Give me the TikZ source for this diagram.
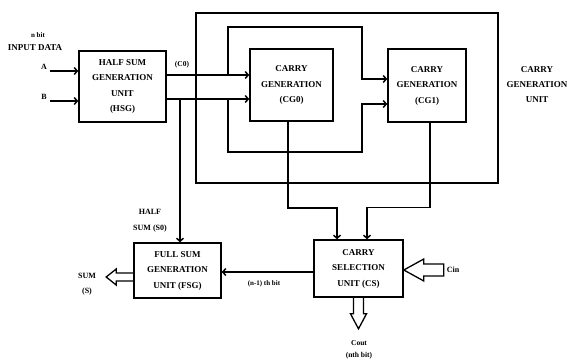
\documentclass[tikz,border=0pt]{standalone}
\usepackage{fontspec}
\setmainfont{Liberation Serif}
\usetikzlibrary{arrows.meta,calc}

\begin{document}
\begin{tikzpicture}[x=1pt,y=-1pt,
  box/.style={draw,line width=1.6pt,inner sep=0pt,align=center,font=\fontsize{9}{15.5}\selectfont\bfseries},
  arr/.style={line width=1.5pt,-{Straight Barb[length=3pt,width=7pt]}},
  fat/.style={line width=1.3pt,line join=miter},
  lbl/.style={align=center,inner sep=0pt,font=\fontsize{8}{15}\selectfont\bfseries}]
 \useasboundingbox (0,0) rectangle (567,363);
 \node[draw,line width=1.6pt,minimum width=302pt,minimum height=170pt] (cgu) at (347,98) {};
 \node[box,minimum width=87pt,minimum height=71pt] (hsg) at (122.5,86.5) {HALF SUM\\GENERATION\\UNIT\\(HSG)};
 \node[box,minimum width=83pt,minimum height=72pt] (cg0) at (291.5,85) {CARRY\\GENERATION\\(CG0)};
 \node[box,minimum width=78pt,minimum height=73pt] (cg1) at (427,85.5) {CARRY\\GENERATION\\(CG1)};
 \node[box,minimum width=89pt,minimum height=57pt] (cs) at (358.5,268.5) {CARRY\\SELECTION\\UNIT (CS)};
 \node[box,minimum width=87pt,minimum height=55pt] (fsg) at (177.5,270.5) {FULL SUM\\GENERATION\\UNIT (FSG)};
 \node[lbl,font=\fontsize{9}{15}\selectfont\bfseries] (cgulbl) at (537,85) {CARRY\\GENERATION\\UNIT};
 % inputs
 \node[lbl,font=\fontsize{7}{8}\selectfont\bfseries] (nbit) at (38,35) {n bit};
 \node[lbl,font=\fontsize{9}{11}\selectfont\bfseries] (indata) at (35,48) {INPUT DATA};
 \node[lbl,font=\fontsize{8}{10}\selectfont\bfseries] (la) at (44,67) {A};
 \node[lbl,font=\fontsize{8}{10}\selectfont\bfseries] (lb) at (44,97) {B};
 \draw[arr] ($(la.east |- 0,71)+(3,0)$) -- (hsg.west |- 0,71);
 \draw[arr] ($(lb.east |- 0,101)+(3,0)$) -- (hsg.west |- 0,101);
 % HSG outputs
 \node[lbl,font=\fontsize{7.5}{9}\selectfont\bfseries] (c0) at (182,65) {(C0)};
 \draw[arr] (hsg.east |- 0,75) -- (cg0.west |- 0,75);
 \draw[arr] (hsg.east |- 0,99) -- (cg0.west |- 0,99);
 \draw[arr] (228,75) |- (362,27) |- (cg1.west |- 0,79);
 \draw[arr] (228,99) |- (362,152) |- (cg1.west |- 0,104);
 \node[lbl,font=\fontsize{8}{16}\selectfont\bfseries] (hs) at (150,221) {HALF\\SUM (S0)};
 \draw[arr] (180,99) -- (fsg.north -| 180,0);
 % carry lines
 \coordinate (csin0) at ($(cs.north)+(-21.5,0)$);
 \coordinate (csin1) at ($(cs.north)+(8.5,0)$);
 \draw[arr] ($(cg0.south)+(-3.5,0)$) -- ++(0,86) -| (csin0);
 \draw[arr] ($(cg1.south)+(3,0)$) -- ++(0,84.5) -| (csin1);
 \draw[arr] (cs.west |- 0,272) -- (fsg.east |- 0,272);
 \node[lbl,font=\fontsize{7}{8}\selectfont\bfseries] (nm1) at (264,284) {(n-1) th bit};
 % hollow arrows
 \draw[fat] (cs.east |- 0,270) -- ++(20,-11) -- ++(0,5) -- ++(20,0) -- ++(0,12) -- ++(-20,0) -- ++(0,5) -- cycle;
 \node[lbl] (cin) at (453,270) {Cin};
 \draw[fat] ($(cs.south)+(-5,0)$) -- ++(0,16) -- ++(-3,0) -- ++(8,15) -- ++(8,-15) -- ++(-3,0) -- ++(0,-16);
 \node[lbl,font=\fontsize{7.5}{12}\selectfont\bfseries] (cout) at (359,350) {Cout\\(nth bit)};
 \draw[fat] (fsg.west |- 0,273) -- ++(-17,0) -- ++(0,-4) -- ++(-10,8) -- ++(10,8) -- ++(0,-4) -- ++(17,0);
 \node[lbl] (sum) at (87,284) {SUM\\(S)};
\end{tikzpicture}
\end{document}
